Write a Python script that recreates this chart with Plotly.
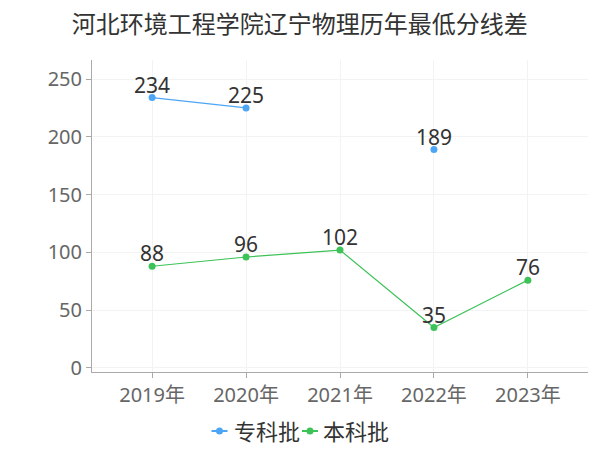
import plotly.graph_objects as go

years = ["2019年", "2020年", "2021年", "2022年", "2023年"]
zhuanke = [234, 225, None, 189, None]
benke = [88, 96, 102, 35, 76]
y_ticks = [0, 50, 100, 150, 200, 250]
series_names = ["专科批", "本科批"]
series_colors = ["#4da6f5", "#3dc258"]

font = "Noto Sans, Noto Sans CJK SC, sans-serif"

# the page body adds an 8px offset, so the figure is sized 592x442
W, H = 592, 442
L, R, T, B = 84, 12, 52, 78
PW, PH = W - L - R, H - T - B

def px(x):
    return (x - L) / PW

def py(y):
    return (H - B - y) / PH

fig = go.Figure()
for name, vals, col in zip(series_names, [zhuanke, benke], series_colors):
    fig.add_trace(go.Scatter(
        x=years, y=vals, name=name, mode="lines+markers",
        line=dict(color=col, width=1.2), marker=dict(size=7, color=col),
        connectgaps=False, showlegend=False,
    ))
    for xv, yv in zip(years, vals):
        if yv is None:
            continue
        fig.add_annotation(x=xv, y=yv, text=str(yv), showarrow=False,
                           xanchor="center", yanchor="bottom", yshift=-3,
                           font=dict(size=21, color="#333333", family=font))

# custom compact legend (icon + label) below the plot
legend_icon_x = [211.5, 302]
legend_text_x = [224, 313]
legend_y = 423
for name, col, ix, tx in zip(series_names, series_colors, legend_icon_x, legend_text_x):
    fig.add_shape(type="line", xref="paper", yref="paper",
                  x0=px(ix - 8), x1=px(ix + 8), y0=py(legend_y), y1=py(legend_y),
                  line=dict(color=col, width=2))
    fig.add_shape(type="circle", xref="paper", yref="paper",
                  x0=px(ix - 3.5), x1=px(ix + 3.5), y0=py(legend_y + 3.5), y1=py(legend_y - 3.5),
                  fillcolor=col, line=dict(color=col, width=0))
    fig.add_annotation(xref="paper", yref="paper", x=px(tx), y=py(legend_y),
                       text=name, showarrow=False, xanchor="left", yanchor="middle",
                       font=dict(size=22, color="#333333", family=font))

fig.update_layout(
    width=W, height=H,
    margin=dict(l=L, r=R, t=T, b=B, autoexpand=False),
    paper_bgcolor="white", plot_bgcolor="white",
    font=dict(family=font, color="#666666"),
    title=dict(text="河北环境工程学院辽宁物理历年最低分线差", x=0.493, xanchor="center",
               y=1 - 17 / H, yanchor="middle", font=dict(size=24, color="#333333", family=font)),
    showlegend=False,
)
fig.update_xaxes(
    type="category", range=[-0.64, 4.64], automargin=False,
    showline=True, linecolor="#aaaaaa", linewidth=1,
    showgrid=True, gridcolor="#f3f3f3",
    ticks="outside", ticklen=5, tickcolor="#aaaaaa",
    tickfont=dict(size=20, color="#666666"),
)
fig.update_yaxes(
    range=[-3.5, 266.5], tickvals=y_ticks, automargin=False,
    showline=True, linecolor="#aaaaaa", linewidth=1,
    showgrid=True, gridcolor="#f3f3f3", zeroline=False,
    ticks="outside", ticklen=5, tickcolor="#aaaaaa",
    tickfont=dict(size=20, color="#666666"),
)

fig.write_html("out.html")
